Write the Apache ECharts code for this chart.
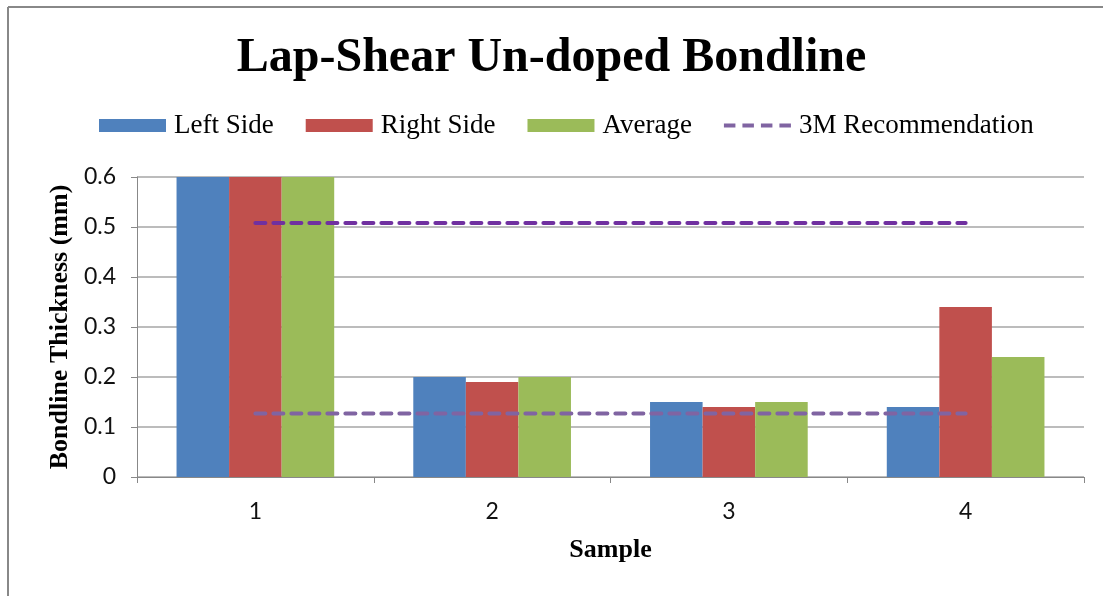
<!DOCTYPE html>
<html>
<head>
<meta charset="utf-8">
<script src="https://cdn.jsdelivr.net/npm/echarts@6/dist/echarts.min.js"></script>
<style>
html,body{margin:0;padding:0;background:#fff;}
#chart{width:1103px;height:596px;}
</style>
</head>
<body>
<div id="chart"></div>
<script>
const categories = ['1', '2', '3', '4'];
const leftSide = [0.70, 0.20, 0.15, 0.14];
const rightSide = [0.70, 0.19, 0.14, 0.34];
const average = [0.70, 0.20, 0.15, 0.24];
const recUpper = [0.508, 0.508, 0.508, 0.508];
const recLower = [0.127, 0.127, 0.127, 0.127];
const yTicks = { min: 0, max: 0.6, interval: 0.1 };

const serif = '"Liberation Serif", "DejaVu Serif", serif';
const sans = 'Lato, "Open Sans", sans-serif';

const dashIcon = 'path://M0,0M0,13M0,4.5h11.5v4h-11.5zM18.5,4.5h11.5v4h-11.5zM37,4.5h11.5v4h-11.5zM55.5,4.5h11.5v4h-11.5z';

const chart = echarts.init(document.getElementById('chart'), null, { renderer: 'canvas' });
const barW = '22.2%';
chart.setOption({
  animation: false,
  backgroundColor: '#fff',
  graphic: [
    { type: 'line', shape: { x1: 8, y1: 7, x2: 1103, y2: 7 }, style: { stroke: '#888', lineWidth: 2 } },
    { type: 'line', shape: { x1: 8, y1: 7, x2: 8, y2: 596 }, style: { stroke: '#888', lineWidth: 2 } }
  ],
  title: {
    text: 'Lap-Shear Un-doped Bondline',
    left: 'center',
    top: 30,
    textStyle: { fontFamily: serif, fontWeight: 'bold', fontSize: 48, color: '#000' }
  },
  legend: {
    left: 99,
    top: 112,
    padding: 0,
    itemWidth: 67,
    itemHeight: 13,
    itemGap: 32,
    textStyle: { fontFamily: serif, fontSize: 27, color: '#000', padding: [0, 0, 0, 3] },
    data: [
      { name: 'Left Side', icon: 'rect' },
      { name: 'Right Side', icon: 'rect' },
      { name: 'Average', icon: 'rect' },
      { name: '3M Recommendation', icon: dashIcon, itemStyle: { color: '#8064A2' } }
    ]
  },
  grid: { left: 137, right: 19, top: 177, bottom: 119, containLabel: false },
  xAxis: {
    type: 'category',
    data: categories,
    name: 'Sample',
    nameLocation: 'middle',
    nameGap: 60,
    nameTextStyle: { fontFamily: serif, fontWeight: 'bold', fontSize: 26, color: '#000' },
    axisLine: { lineStyle: { color: '#888', width: 1 } },
    axisTick: { show: true, length: 6, lineStyle: { color: '#888' } },
    axisLabel: { fontFamily: sans, fontSize: 23, color: '#111', margin: 23 }
  },
  yAxis: {
    type: 'value',
    min: yTicks.min,
    max: yTicks.max,
    interval: yTicks.interval,
    name: 'Bondline Thickness (mm)',
    nameLocation: 'middle',
    nameGap: 63,
    nameTextStyle: { fontFamily: serif, fontWeight: 'bold', fontSize: 26, color: '#000' },
    axisLine: { show: true, lineStyle: { color: '#888', width: 1 } },
    axisTick: { show: true, length: 6, lineStyle: { color: '#888' } },
    axisLabel: { fontFamily: sans, fontSize: 23, color: '#111', margin: 21 },
    splitLine: { show: true, lineStyle: { color: '#a6a6a6', width: 1.5 } }
  },
  series: [
    { name: 'Left Side', type: 'bar', data: leftSide, barWidth: barW, barGap: '0%', clip: true,
      itemStyle: { color: '#4F81BD' } },
    { name: 'Right Side', type: 'bar', data: rightSide, barWidth: barW, barGap: '0%', clip: true,
      itemStyle: { color: '#C0504D' } },
    { name: 'Average', type: 'bar', data: average, barWidth: barW, barGap: '0%', clip: true,
      itemStyle: { color: '#9BBB59' } },
    { name: '3M Recommendation', type: 'line', data: recLower, symbol: 'none', z: 5,
      itemStyle: { color: '#8064A2' },
      lineStyle: { color: '#8064A2', width: 4, type: [10, 8], cap: 'round' } },
    { name: '3M Recommendation', type: 'line', data: recUpper, symbol: 'none', z: 5,
      itemStyle: { color: '#7030A0' },
      lineStyle: { color: '#7030A0', width: 4, type: [10, 8], cap: 'round' } }
  ]
});
</script>
</body>
</html>
